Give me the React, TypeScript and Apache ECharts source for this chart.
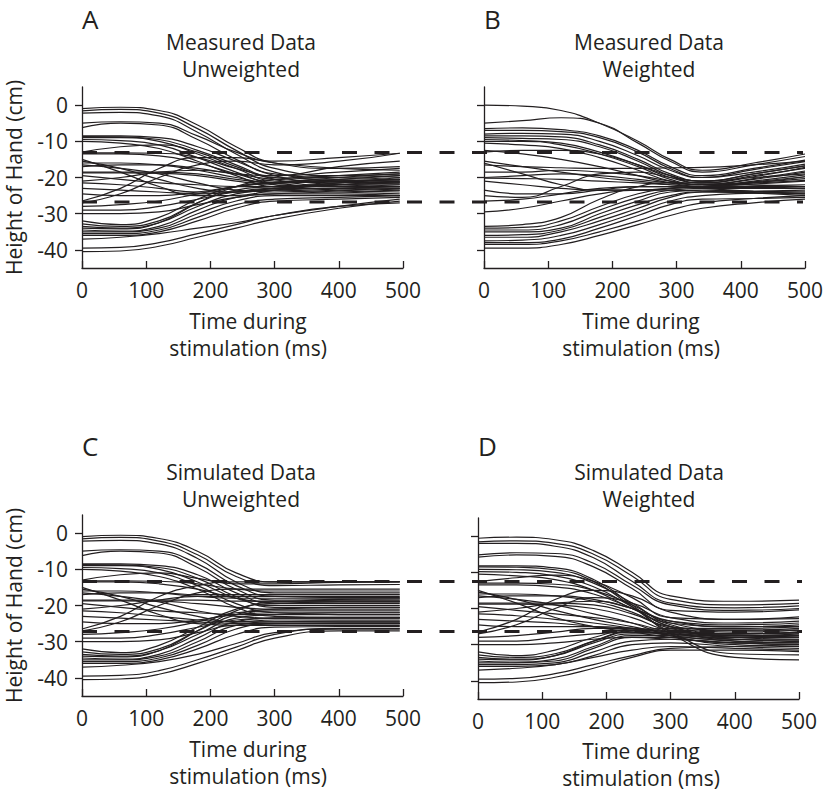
import React, { useEffect, useRef } from "react";
import * as echarts from "echarts";

const FONT = "'Open Sans', 'Noto Sans', sans-serif";
const INK = "#231f20";

const panelLetters = ["A", "B", "C", "D"];
const panelTitles = [
  "Measured Data\nUnweighted",
  "Measured Data\nWeighted",
  "Simulated Data\nUnweighted",
  "Simulated Data\nWeighted",
];
const xAxisTitle = "Time during\nstimulation (ms)";
const yAxisTitle = "Height of Hand (cm)";
const yTicks = [-40, -30, -20, -10, 0];
const boundsTop = [-13.1, -26.8];
const boundsBottom = [-13.4, -27.2];

const timesA = [0, 60, 120, 180, 240, 300, 400, 495];
const timesB = [0, 60, 120, 180, 240, 290, 340, 420, 500];
const timesC = [0, 60, 120, 180, 240, 300, 400, 495];
const timesD = [0, 60, 120, 180, 240, 300, 400, 500];

const curvesA = [
  [-1.0, -0.6, -1.5, -5.5, -11.5, -16.0, -17.5, -17.0],
  [-1.6, -1.2, -2.2, -6.5, -12.5, -17.5, -19.5, -19.0],
  [-2.2, -2.0, -3.0, -7.5, -13.5, -18.5, -21.0, -21.5],
  [-5.0, -4.6, -5.0, -8.5, -13.0, -15.5, -14.5, -13.3],
  [-6.2, -5.0, -5.5, -9.5, -15.0, -19.5, -22.0, -22.5],
  [-8.5, -8.5, -9.0, -11.5, -15.5, -19.0, -20.0, -19.5],
  [-8.7, -8.8, -9.5, -12.5, -16.5, -20.5, -22.5, -23.0],
  [-9.0, -9.0, -10.0, -13.5, -17.5, -21.0, -21.5, -21.0],
  [-9.5, -9.8, -11.0, -14.5, -18.5, -22.0, -23.5, -24.0],
  [-10.0, -10.5, -12.0, -15.5, -19.5, -22.5, -22.0, -21.5],
  [-13.0, -11.5, -11.0, -13.0, -17.0, -20.0, -20.5, -20.0],
  [-13.2, -13.2, -13.3, -14.5, -17.5, -19.5, -18.5, -17.5],
  [-13.5, -13.5, -14.0, -16.0, -19.0, -21.5, -22.5, -22.5],
  [-15.0, -18.5, -22.5, -25.0, -25.0, -23.5, -22.0, -21.0],
  [-15.5, -17.5, -20.5, -23.0, -24.0, -23.0, -21.5, -20.5],
  [-16.0, -16.0, -16.5, -18.0, -20.0, -21.5, -20.5, -19.5],
  [-16.5, -17.5, -19.0, -21.5, -23.5, -24.0, -23.5, -23.0],
  [-17.0, -16.5, -16.5, -17.5, -19.0, -19.5, -17.0, -15.5],
  [-18.5, -18.5, -18.5, -19.0, -20.5, -21.5, -21.0, -20.5],
  [-18.7, -18.7, -18.8, -19.5, -21.0, -22.0, -22.5, -22.0],
  [-19.5, -20.5, -21.5, -22.0, -22.5, -22.5, -21.5, -20.0],
  [-21.0, -20.0, -18.5, -18.0, -19.0, -20.5, -21.0, -21.0],
  [-21.5, -22.0, -23.0, -24.0, -24.0, -23.5, -24.0, -24.5],
  [-23.0, -23.5, -24.0, -24.5, -24.0, -23.0, -22.0, -21.5],
  [-24.5, -25.0, -25.0, -24.0, -22.5, -21.5, -20.0, -19.0],
  [-26.5, -23.0, -17.5, -14.5, -14.5, -16.0, -17.5, -18.0],
  [-27.0, -24.5, -20.0, -16.5, -15.5, -16.5, -15.5, -13.3],
  [-28.0, -27.5, -26.5, -24.5, -22.5, -21.5, -21.0, -20.5],
  [-29.0, -29.0, -28.0, -26.0, -24.0, -23.0, -23.0, -23.5],
  [-30.0, -30.0, -29.5, -27.5, -25.5, -24.5, -24.5, -25.0],
  [-32.0, -33.0, -31.0, -26.0, -22.5, -21.5, -21.0, -20.5],
  [-32.8, -33.5, -32.0, -27.0, -23.5, -22.5, -22.0, -22.0],
  [-33.5, -34.0, -32.5, -28.0, -24.5, -23.5, -23.0, -22.5],
  [-34.0, -34.2, -32.5, -27.0, -22.5, -20.5, -19.5, -18.5],
  [-34.5, -34.8, -33.5, -29.0, -25.5, -24.5, -24.0, -23.5],
  [-35.0, -35.0, -34.0, -30.0, -26.5, -25.0, -25.0, -25.0],
  [-35.5, -35.5, -34.5, -31.0, -27.5, -26.0, -25.5, -25.0],
  [-36.0, -36.0, -35.0, -32.0, -28.5, -26.5, -26.0, -25.5],
  [-37.0, -36.5, -35.5, -34.0, -32.5, -30.5, -28.0, -26.0],
  [-39.5, -39.3, -38.0, -35.5, -33.0, -30.5, -28.0, -27.0],
  [-40.5, -40.3, -39.0, -36.5, -34.0, -31.5, -28.5, -26.5],
];

const curvesB = [
  [0.0, -0.3, -1.5, -5.0, -10.0, -15.0, -18.0, -16.0, -13.5],
  [-5.0, -4.3, -3.5, -5.0, -10.5, -15.5, -18.5, -16.5, -14.2],
  [-6.5, -6.3, -6.8, -8.5, -12.5, -17.0, -19.5, -17.5, -15.2],
  [-7.0, -7.0, -7.3, -9.0, -13.0, -17.5, -20.0, -18.5, -16.3],
  [-8.0, -7.8, -8.0, -10.0, -14.0, -18.0, -20.0, -17.8, -15.6],
  [-8.5, -8.5, -8.8, -11.0, -15.0, -19.0, -21.0, -19.0, -16.8],
  [-9.0, -9.2, -9.5, -11.5, -15.5, -19.5, -21.5, -19.5, -17.5],
  [-9.5, -9.8, -10.5, -13.0, -16.5, -20.0, -21.5, -19.8, -17.2],
  [-10.0, -10.0, -11.0, -13.5, -17.0, -20.5, -22.0, -20.5, -18.5],
  [-10.5, -11.0, -12.0, -14.5, -18.0, -21.0, -22.0, -20.3, -18.2],
  [-12.5, -13.5, -15.0, -17.0, -19.5, -21.5, -22.5, -21.5, -19.8],
  [-13.0, -12.5, -12.5, -13.5, -16.5, -19.5, -21.0, -19.0, -16.8],
  [-15.5, -17.0, -18.5, -20.0, -21.0, -22.0, -22.5, -21.0, -19.3],
  [-16.0, -19.0, -22.0, -23.5, -23.5, -23.0, -22.5, -21.2, -19.8],
  [-16.5, -17.0, -17.3, -17.5, -17.5, -17.3, -17.2, -16.5, -15.5],
  [-18.5, -18.5, -18.0, -18.5, -19.5, -21.0, -22.0, -21.5, -20.8],
  [-20.0, -19.5, -19.0, -19.5, -20.5, -21.5, -22.0, -21.3, -20.3],
  [-20.2, -20.3, -20.5, -21.0, -21.5, -22.0, -22.5, -22.3, -22.0],
  [-21.0, -22.0, -23.0, -23.5, -23.5, -23.0, -22.5, -21.8, -21.0],
  [-23.5, -24.5, -24.5, -23.5, -22.5, -22.5, -23.0, -23.8, -24.5],
  [-25.0, -25.5, -22.5, -19.0, -18.5, -20.0, -21.0, -20.0, -19.0],
  [-26.5, -26.0, -24.5, -23.0, -22.5, -22.5, -22.8, -22.8, -22.5],
  [-29.5, -28.5, -26.5, -24.5, -23.5, -23.5, -23.8, -24.3, -25.0],
  [-33.5, -33.0, -31.0, -26.0, -22.5, -21.5, -21.5, -22.0, -22.5],
  [-34.0, -33.8, -32.0, -28.0, -24.5, -23.0, -22.5, -22.5, -22.5],
  [-34.5, -34.5, -33.0, -29.0, -25.5, -23.5, -23.0, -23.0, -23.0],
  [-35.0, -35.0, -34.0, -30.0, -26.5, -24.0, -23.5, -23.8, -24.0],
  [-36.0, -35.8, -34.5, -31.0, -27.5, -25.0, -24.0, -24.2, -24.5],
  [-36.5, -36.5, -35.0, -32.0, -28.5, -25.5, -24.0, -23.8, -23.5],
  [-37.5, -37.3, -36.0, -33.0, -29.5, -26.5, -25.0, -24.3, -24.0],
  [-38.0, -38.0, -37.0, -34.0, -30.5, -27.5, -26.0, -25.8, -25.5],
  [-38.5, -38.5, -37.5, -35.0, -32.0, -29.0, -27.0, -25.8, -25.0],
  [-39.5, -39.5, -38.5, -36.0, -33.0, -30.5, -28.5, -27.0, -26.0],
];

const curvesC = [
  [-1.0, -0.6, -1.5, -5.0, -11.0, -13.5, -13.5, -13.5],
  [-1.6, -1.2, -2.2, -6.0, -12.0, -14.5, -14.3, -14.2],
  [-2.2, -2.0, -3.0, -7.0, -13.5, -16.5, -16.5, -16.5],
  [-5.0, -4.6, -5.0, -8.5, -14.5, -17.5, -17.8, -17.8],
  [-6.2, -5.0, -5.5, -9.5, -15.5, -18.5, -18.3, -18.2],
  [-8.5, -8.5, -9.0, -11.5, -16.5, -19.5, -19.5, -19.5],
  [-8.7, -8.8, -9.5, -12.5, -17.5, -20.5, -20.5, -20.5],
  [-9.0, -9.0, -10.0, -13.5, -18.0, -20.0, -20.0, -20.0],
  [-9.5, -9.8, -11.0, -14.5, -19.5, -22.0, -22.5, -22.5],
  [-10.0, -10.5, -12.0, -15.5, -20.5, -23.0, -23.3, -23.3],
  [-13.0, -11.5, -11.0, -12.5, -14.0, -14.0, -13.6, -13.5],
  [-13.2, -13.2, -13.3, -14.0, -15.5, -16.0, -16.0, -16.0],
  [-13.5, -13.5, -14.0, -15.5, -18.0, -19.0, -19.0, -19.0],
  [-15.0, -18.5, -22.5, -25.0, -25.5, -25.0, -24.8, -24.8],
  [-15.5, -17.5, -20.5, -23.0, -24.5, -24.0, -24.0, -24.0],
  [-16.0, -16.0, -16.5, -17.5, -18.0, -18.0, -18.0, -18.0],
  [-16.5, -17.5, -19.0, -21.5, -23.0, -23.5, -23.5, -23.5],
  [-17.0, -16.5, -16.5, -17.0, -17.0, -17.0, -17.0, -17.0],
  [-18.5, -18.5, -18.5, -18.5, -18.8, -18.8, -18.8, -18.8],
  [-18.7, -18.7, -18.8, -19.5, -20.5, -21.0, -21.0, -21.0],
  [-19.5, -20.5, -21.5, -22.0, -22.5, -22.5, -22.5, -22.5],
  [-21.0, -20.0, -18.5, -17.5, -17.5, -17.5, -17.5, -17.5],
  [-21.5, -22.0, -23.0, -24.0, -24.5, -24.5, -24.5, -24.5],
  [-23.0, -23.5, -24.0, -24.5, -25.0, -25.0, -25.0, -25.0],
  [-24.5, -25.0, -25.0, -24.0, -22.5, -22.0, -22.0, -22.0],
  [-26.5, -23.0, -17.5, -14.5, -13.5, -13.5, -13.4, -13.4],
  [-27.0, -24.5, -20.0, -16.5, -15.5, -15.5, -15.5, -15.5],
  [-28.0, -27.5, -26.5, -24.5, -22.0, -21.5, -21.5, -21.5],
  [-29.0, -29.0, -28.0, -26.0, -24.0, -23.5, -23.5, -23.5],
  [-30.0, -30.0, -29.5, -27.5, -25.5, -25.5, -25.5, -25.5],
  [-32.0, -33.0, -31.0, -26.0, -21.0, -19.5, -19.0, -19.0],
  [-32.8, -33.5, -32.0, -27.0, -22.5, -21.0, -20.5, -20.5],
  [-33.5, -34.0, -32.5, -28.0, -23.5, -22.5, -22.0, -22.0],
  [-34.0, -34.2, -32.5, -27.0, -21.5, -19.0, -18.5, -18.5],
  [-34.5, -34.8, -33.5, -29.0, -24.5, -23.5, -23.3, -23.3],
  [-35.0, -35.0, -34.0, -30.0, -25.5, -24.5, -24.3, -24.3],
  [-35.5, -35.5, -34.5, -31.0, -26.5, -25.0, -25.0, -25.0],
  [-36.0, -36.0, -35.0, -32.0, -28.0, -26.0, -25.8, -25.8],
  [-37.0, -36.5, -35.5, -33.5, -30.5, -27.5, -26.5, -26.5],
  [-39.5, -39.3, -38.0, -35.0, -31.5, -28.0, -26.3, -26.3],
  [-40.5, -40.3, -39.0, -36.0, -32.5, -29.0, -27.0, -27.0],
];

const curvesD = [
  [-0.6, -0.3, -1.0, -4.0, -10.0, -16.5, -18.0, -17.7],
  [-1.6, -1.3, -2.0, -5.0, -11.0, -17.5, -19.0, -18.6],
  [-2.0, -2.0, -2.8, -6.0, -12.5, -18.5, -19.8, -19.3],
  [-5.2, -4.6, -4.8, -7.5, -13.5, -19.0, -20.5, -20.0],
  [-5.8, -5.2, -5.6, -8.5, -14.5, -20.5, -21.0, -20.4],
  [-8.2, -8.2, -8.8, -12.0, -19.0, -27.0, -33.5, -34.2],
  [-8.5, -8.6, -9.3, -12.5, -19.5, -26.5, -32.5, -32.8],
  [-9.2, -9.3, -10.0, -13.0, -18.5, -24.5, -27.0, -26.5],
  [-9.8, -10.0, -11.0, -14.0, -19.5, -25.0, -28.0, -28.5],
  [-10.5, -11.0, -12.0, -15.0, -20.0, -24.0, -25.0, -24.5],
  [-12.6, -11.5, -10.8, -12.5, -17.0, -22.5, -23.0, -22.3],
  [-13.0, -13.0, -13.3, -15.0, -19.0, -24.0, -26.0, -25.5],
  [-13.5, -13.5, -14.0, -16.0, -20.0, -25.0, -27.5, -27.0],
  [-15.0, -18.5, -22.5, -25.0, -26.5, -28.0, -29.5, -29.0],
  [-15.5, -17.5, -20.5, -23.0, -25.0, -27.0, -28.0, -27.5],
  [-16.0, -16.0, -16.5, -18.0, -21.0, -25.5, -27.5, -27.5],
  [-16.5, -17.5, -19.0, -21.5, -24.0, -27.5, -30.0, -30.5],
  [-17.0, -16.5, -16.5, -17.5, -20.0, -23.5, -24.5, -24.0],
  [-18.5, -18.5, -18.5, -19.0, -21.5, -25.0, -26.0, -26.0],
  [-18.8, -18.8, -19.0, -20.0, -22.5, -26.0, -27.0, -26.5],
  [-19.5, -20.5, -21.5, -22.5, -24.0, -26.5, -28.5, -28.5],
  [-21.0, -20.0, -18.5, -18.0, -20.0, -23.5, -25.0, -25.0],
  [-21.5, -22.0, -23.0, -24.0, -25.5, -27.5, -29.0, -29.5],
  [-23.0, -23.5, -24.0, -25.0, -26.0, -27.0, -27.5, -27.5],
  [-24.5, -25.0, -25.0, -25.0, -25.5, -26.5, -27.0, -26.5],
  [-26.5, -23.0, -17.5, -15.0, -16.5, -21.0, -23.0, -22.8],
  [-27.0, -24.5, -20.0, -17.0, -18.5, -22.5, -24.0, -23.5],
  [-28.0, -27.5, -26.5, -25.5, -25.5, -26.5, -27.5, -28.0],
  [-29.0, -29.0, -28.0, -27.0, -26.5, -27.0, -28.5, -29.0],
  [-30.0, -30.0, -29.5, -28.5, -28.0, -28.5, -29.5, -30.0],
  [-32.0, -33.0, -31.5, -28.0, -26.0, -26.0, -26.5, -26.0],
  [-32.8, -33.5, -32.5, -29.0, -26.5, -26.5, -27.0, -27.0],
  [-33.5, -34.0, -33.0, -29.5, -27.0, -27.0, -28.0, -28.0],
  [-34.0, -34.2, -33.0, -29.0, -26.0, -25.5, -25.5, -25.0],
  [-34.5, -34.8, -34.0, -30.5, -27.5, -27.5, -28.5, -29.0],
  [-35.0, -35.0, -34.5, -31.0, -28.0, -28.0, -29.0, -29.5],
  [-35.5, -35.5, -35.0, -32.0, -29.0, -28.5, -29.5, -30.0],
  [-36.0, -36.0, -35.5, -33.0, -30.0, -29.5, -30.5, -31.0],
  [-37.0, -36.5, -35.5, -33.5, -31.5, -30.5, -31.0, -31.5],
  [-39.5, -39.3, -38.0, -35.5, -33.0, -31.0, -30.5, -30.0],
  [-40.5, -40.3, -39.0, -36.5, -33.5, -31.5, -31.5, -31.9],
];

// layout (pixels)
const panelGrids = [
  { left: 82, top: 87, width: 321, height: 181 },
  { left: 484, top: 87, width: 321, height: 181 },
  { left: 82, top: 515, width: 321, height: 181 },
  { left: 478, top: 518, width: 321, height: 181 },
];
const overlayGrids = [
  { left: 82, top: 87, width: 721, height: 181 },
  { left: 82, top: 515, width: 720, height: 181 },
];
const letterPos = [
  [82, 6],
  [484, 6],
  [82, 433],
  [478, 433],
];
const titlePos = [
  [241, 28],
  [649, 28],
  [241, 458],
  [649, 458],
];
const xNamePos = [
  [248, 307],
  [641, 307],
  [248, 735],
  [641, 737],
];

function buildOption() {
  const panels = [
    { times: timesA, curves: curvesA },
    { times: timesB, curves: curvesB },
    { times: timesC, curves: curvesC },
    { times: timesD, curves: curvesD },
  ];
  const axisLineStyle = { color: INK, width: 1.3 };
  const xAxes: any[] = panelGrids.map((_, i) => ({
    type: "value",
    gridIndex: i,
    min: 0,
    max: 500,
    interval: 100,
    axisLine: { show: true, onZero: false, lineStyle: axisLineStyle },
    axisTick: { show: true, inside: true, length: 7, lineStyle: axisLineStyle },
    axisLabel: {
      show: true,
      fontSize: 21,
      lineHeight: 21,
      color: INK,
      fontFamily: FONT,
      margin: 11,
    },
    splitLine: { show: false },
  }));
  const yAxes: any[] = panelGrids.map((_, i) => ({
    type: "value",
    gridIndex: i,
    min: -45,
    max: 5,
    axisLine: { show: true, onZero: false, lineStyle: axisLineStyle },
    axisTick: {
      show: true,
      inside: false,
      length: 7,
      customValues: yTicks,
      lineStyle: axisLineStyle,
    },
    axisLabel: {
      show: i === 0 || i === 2,
      customValues: yTicks,
      fontSize: 21,
      color: INK,
      fontFamily: FONT,
      margin: 14,
    },
    splitLine: { show: false },
    name: i === 0 || i === 2 ? yAxisTitle : "",
    nameLocation: "middle",
    nameRotate: 90,
    nameGap: 58,
    nameTextStyle: { fontSize: 21, color: INK, fontFamily: FONT },
  }));
  overlayGrids.forEach((_, j) => {
    xAxes.push({ type: "value", gridIndex: 4 + j, min: 0, max: 1, show: false });
    yAxes.push({ type: "value", gridIndex: 4 + j, min: -45, max: 5, show: false });
  });

  const series: any[] = [];
  panels.forEach((p, i) => {
    p.curves.forEach((c) => {
      series.push({
        type: "line",
        xAxisIndex: i,
        yAxisIndex: i,
        data: p.times.map((t, k) => [t, c[k]]),
        symbol: "none",
        showSymbol: false,
        smooth: 0.5,
        silent: true,
        lineStyle: { color: INK, width: 1.2 },
        z: 2,
      });
    });
  });
  [boundsTop, boundsBottom].forEach((b, j) => {
    b.forEach((v) => {
      series.push({
        type: "line",
        xAxisIndex: 4 + j,
        yAxisIndex: 4 + j,
        data: [
          [0, v],
          [1, v],
        ],
        symbol: "none",
        silent: true,
        lineStyle: { color: INK, width: 3, type: [15, 17.5] },
        z: 3,
      });
    });
  });

  const graphics: any[] = [];
  panelLetters.forEach((l, i) => {
    graphics.push({
      type: "text",
      x: letterPos[i][0],
      y: letterPos[i][1],
      style: {
        text: l,
        fontSize: 26,
        lineHeight: 26,
        fontFamily: FONT,
        fill: INK,
        textAlign: "left",
        textVerticalAlign: "top",
      },
    });
  });
  panelTitles.forEach((t, i) => {
    graphics.push({
      type: "text",
      x: titlePos[i][0],
      y: titlePos[i][1],
      style: {
        text: t,
        fontSize: 21,
        lineHeight: 27,
        fontFamily: FONT,
        fill: INK,
        textAlign: "center",
        textVerticalAlign: "top",
      },
    });
  });
  xNamePos.forEach((p) => {
    graphics.push({
      type: "text",
      x: p[0],
      y: p[1],
      style: {
        text: xAxisTitle,
        fontSize: 21,
        lineHeight: 27,
        fontFamily: FONT,
        fill: INK,
        textAlign: "center",
        textVerticalAlign: "top",
      },
    });
  });

  return {
    animation: false,
    backgroundColor: "#ffffff",
    textStyle: { fontFamily: FONT },
    grid: [...panelGrids, ...overlayGrids].map((g) => ({ ...g, containLabel: false })),
    xAxis: xAxes,
    yAxis: yAxes,
    series,
    graphic: graphics,
  };
}

export default function App() {
  const ref = useRef<HTMLDivElement | null>(null);
  useEffect(() => {
    if (!ref.current) return;
    const chart = echarts.init(ref.current, undefined, { renderer: "svg" });
    chart.setOption(buildOption() as any);
    return () => chart.dispose();
  }, []);
  return (
    <div
      ref={ref}
      style={{ position: "absolute", left: 0, top: 0, width: 831, height: 793, background: "#fff" }}
    />
  );
}
